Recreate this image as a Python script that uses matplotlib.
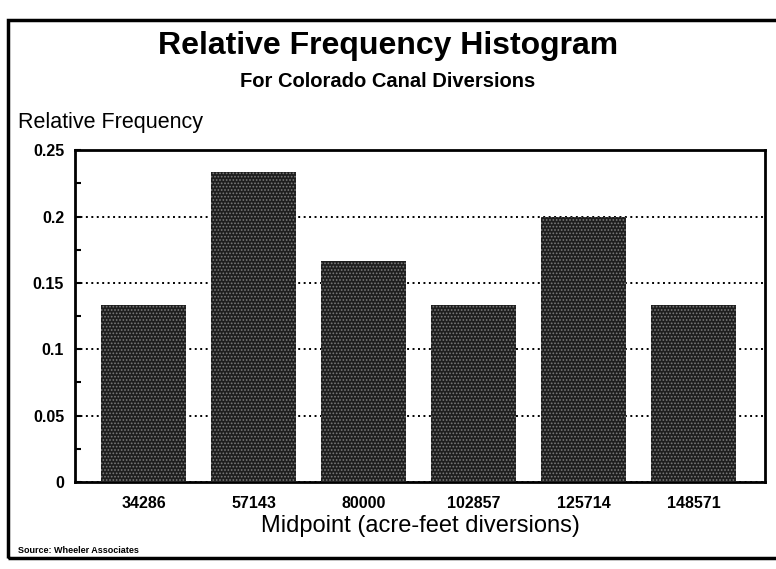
import numpy as np
import matplotlib
matplotlib.use("Agg")
import matplotlib.pyplot as plt
from matplotlib.patches import Rectangle

# midpoints and relative frequencies
midpoints = ["34286", "57143", "80000", "102857", "125714", "148571"]
rel_freq = [0.1333, 0.2333, 0.1667, 0.1333, 0.2, 0.1333]
yticks = [0, 0.05, 0.1, 0.15, 0.2, 0.25]
ytick_labels = ["0", "0.05", "0.1", "0.15", "0.2", "0.25"]

plt.rcParams['font.family'] = ['Liberation Sans', 'DejaVu Sans']
plt.rcParams['hatch.color'] = '#7a7a7a'
plt.rcParams['hatch.linewidth'] = 0.8

fig = plt.figure(figsize=(7.76, 5.69), dpi=100)
ax = fig.add_axes([0.097, 0.153, 0.889, 0.583])

x = np.arange(len(midpoints))
ax.bar(x, rel_freq, width=0.77, color='#1e1e1e', hatch='.....', linewidth=0, zorder=3)

ax.set_xlim(-0.62, 5.65)
ax.set_ylim(0, 0.25)
ax.set_yticks(yticks)
ax.set_yticklabels(ytick_labels, fontsize=11.5, fontweight='bold')
ax.set_yticks(np.arange(0.025, 0.25, 0.05), minor=True)
ax.set_xticks(x)
ax.set_xticklabels(midpoints, fontsize=11.5, fontweight='bold')
ax.tick_params(axis='x', length=0, pad=10)
ax.tick_params(axis='y', which='both', direction='in', length=4, width=1.5, pad=8)
ax.grid(axis='y', linestyle=(0, (1, 1.8)), color='black', linewidth=1.4, zorder=1)
ax.set_axisbelow(True)
for s in ax.spines.values():
    s.set_linewidth(2)

ax.set_xlabel("Midpoint (acre-feet diversions)", fontsize=17, labelpad=3)

fig.text(0.5, 0.92, "Relative Frequency Histogram", ha='center', va='center',
         fontsize=23, fontweight='bold')
fig.text(0.5, 0.857, "For Colorado Canal Diversions", ha='center', va='center',
         fontsize=14.5, fontweight='bold')
fig.text(0.023, 0.785, "Relative Frequency", ha='left', va='center', fontsize=15.5)
fig.text(0.023, 0.033, "Source: Wheeler Associates", ha='left', va='center',
         fontsize=6.5, fontweight='bold')

# outer frame
fig.patches.append(Rectangle((0.01, 0.02), 1.1, 0.945, transform=fig.transFigure,
                             fill=False, edgecolor='black', linewidth=2.5))

plt.savefig("out.png", dpi=100)
